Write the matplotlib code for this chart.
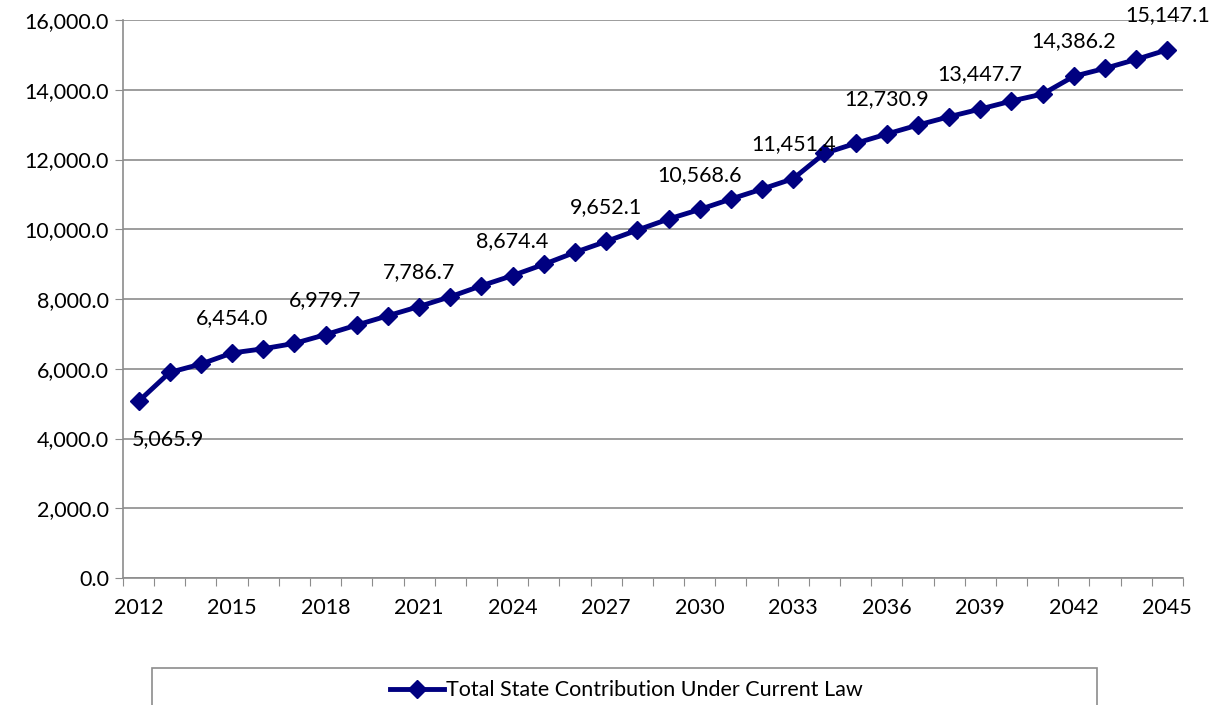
import matplotlib.pyplot as plt
import matplotlib.patches as patches
import numpy as np

years = list(range(2012, 2046))
contribution = [5065.9, 5897, 6136, 6454.0, 6575, 6729, 6979.7, 7254, 7522,
                7786.7, 8067, 8382, 8674.4, 8995, 9339, 9652.1, 9978, 10294,
                10568.6, 10867, 11154, 11451.4, 12177, 12464, 12730.9, 12989,
                13228, 13447.7, 13677, 13878, 14386.2, 14614, 14871, 15147.1]
labelYears = [2012, 2015, 2018, 2021, 2024, 2027, 2030, 2033, 2036, 2039, 2042, 2045]
seriesName = "Total State Contribution Under Current Law"

plt.rcParams['font.family'] = ['Lato', 'DejaVu Sans']
fs = 15.5

fig = plt.figure(figsize=(12.17, 7.05), dpi=100)
ax = fig.add_axes([0.101, 0.180, 0.871, 0.7916])

x = np.arange(len(years))
line, = ax.plot(x, contribution, color='#000080', linewidth=3.5,
                marker='D', markersize=9, label=seriesName)

for yr in labelYears:
    i = years.index(yr)
    v = contribution[i]
    if i == 0:
        ax.annotate(f'{v:,.1f}', (x[i], v), xytext=(21, -27), textcoords='offset points',
                    ha='center', va='center', fontsize=fs)
    else:
        ax.annotate(f'{v:,.1f}', (x[i], v), xytext=(0, 25), textcoords='offset points',
                    ha='center', va='center', fontsize=fs)

ax.set_xlim(-0.5, len(years) - 0.5)
ax.set_ylim(0, 16000)
ax.set_yticks(np.arange(0, 16001, 2000))
ax.set_yticklabels([f'{v:,.1f}' for v in np.arange(0, 16001, 2000)], fontsize=fs)
ax.yaxis.grid(True, color='#8c8c8c', linewidth=1.2)
ax.set_axisbelow(True)

# ticks between categories, labels every third year
ax.set_xticks(np.arange(-0.5, len(years), 1))
ax.set_xticklabels([])
ax.set_xticks(x[::3], minor=True)
ax.set_xticklabels([str(y) for y in years[::3]], minor=True, fontsize=fs)
ax.tick_params(axis='x', which='major', length=6, color='#8c8c8c', direction='out')
ax.tick_params(axis='x', which='minor', length=0, pad=14)
ax.tick_params(axis='y', length=6, color='#8c8c8c', pad=4)

for s in ['top', 'right']:
    ax.spines[s].set_visible(False)
ax.spines['left'].set_color('#8c8c8c')
ax.spines['bottom'].set_color('#8c8c8c')
ax.spines['left'].set_linewidth(1.2)
ax.spines['bottom'].set_linewidth(1.2)

# legend box, cut off at the bottom like the reference
rect = patches.Rectangle((0.125, -0.05), 0.776, 0.1025, transform=fig.transFigure,
                         fill=False, edgecolor='#8c8c8c', linewidth=1.2)
fig.patches.append(rect)
fig.legend(handles=[line], loc='center', bbox_to_anchor=(0.515, 0.021),
           frameon=False, fontsize=fs, handlelength=2.5, handletextpad=0.1)

fig.savefig('out.png', dpi=100)
